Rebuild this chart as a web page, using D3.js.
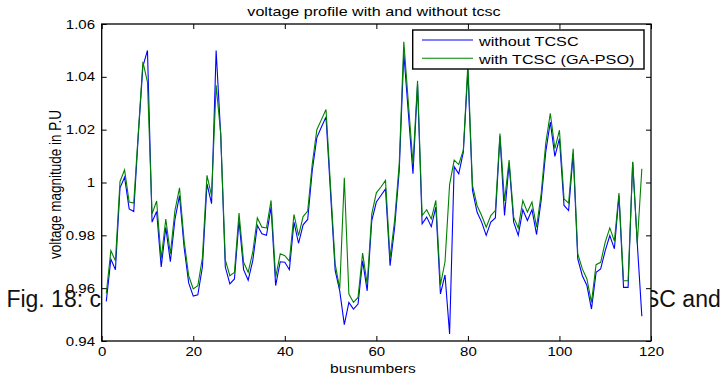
<!DOCTYPE html>
<html>
<head>
<meta charset="utf-8">
<script src="https://cdn.jsdelivr.net/npm/d3@7"></script>
<style>
  html, body { margin: 0; padding: 0; background: #ffffff; }
  svg { display: block; font-family: "Liberation Sans", Arial, sans-serif; }
</style>
</head>
<body>
<svg id="chart" width="726" height="379"></svg>
<script>
// ---------------- data ----------------
const buses = d3.range(1, 119);

const withoutTCSC = [
  0.955, 0.971, 0.967, 0.998, 1.002, 0.990, 0.989, 1.018, 1.044, 1.050,
  0.985, 0.989, 0.968, 0.983, 0.970, 0.986, 0.995, 0.9755, 0.962, 0.957,
  0.9575, 0.968, 0.9995, 0.992, 1.050, 1.018, 0.968, 0.9616, 0.9635, 0.9856,
  0.967, 0.963, 0.9704, 0.9837, 0.9806, 0.980, 0.9907, 0.961, 0.970, 0.9698,
  0.967, 0.985, 0.977, 0.984, 0.986, 1.0046, 1.017, 1.021, 1.0248, 0.9958,
  0.9667, 0.959, 0.9462, 0.9546, 0.9521, 0.954, 0.9704, 0.959, 0.9856, 0.9926,
  0.9951, 0.9976, 0.9685, 0.9831, 1.0046, 1.0489, 1.026, 1.0033, 1.037, 0.9844,
  0.9869, 0.9833, 0.9907, 0.9578, 0.965, 0.9427, 1.006, 1.0033, 1.0115, 1.0425,
  0.997, 0.9888, 0.985, 0.980, 0.985, 0.9866, 1.0175, 0.9875, 1.0072, 0.985,
  0.980, 0.9897, 0.9856, 0.9897, 0.9803, 0.9932, 1.0115, 1.0229, 1.0099, 1.0166,
  0.9913, 0.9894, 1.0109, 0.9711, 0.9647, 0.961, 0.9521, 0.966, 0.9673, 0.9742,
  0.9799, 0.9749, 0.995, 0.9603, 0.9603, 1.0077, 0.977, 0.9494
];

const withTCSC = [
  0.958, 0.9742, 0.9704, 1.0004, 1.0048, 0.9926, 0.9922, 1.019, 1.0457, 1.038,
  0.9881, 0.993, 0.9711, 0.9862, 0.973, 0.9894, 0.998, 0.978, 0.9647, 0.9597,
  0.9609, 0.9715, 1.0027, 0.995, 1.0368, 1.0185, 0.9707, 0.9647, 0.966, 0.9884,
  0.9698, 0.966, 0.9736, 0.9866, 0.9831, 0.9828, 0.9932, 0.9641, 0.973, 0.9723,
  0.9702, 0.9879, 0.9799, 0.9871, 0.9892, 1.0071, 1.020, 1.0238, 1.0276, 0.9984,
  0.9692, 0.9597, 1.0018, 0.9578, 0.9546, 0.9565, 0.9733, 0.9615, 0.9881, 0.9961,
  0.9983, 1.0008, 0.9714, 0.9859, 1.0071, 1.0533, 1.030, 1.0071, 1.0385, 0.9875,
  0.9897, 0.9862, 0.9932, 0.9612, 0.970, 0.9992, 1.0085, 1.0068, 1.0122, 1.045,
  0.9989, 0.9913, 0.9875, 0.9831, 0.9875, 0.9894, 1.0185, 0.993, 1.0085, 0.9869,
  0.9828, 0.9932, 0.9888, 0.9926, 0.9831, 0.9957, 1.0147, 1.0262, 1.0128, 1.0198,
  0.9938, 0.9922, 1.0128, 0.973, 0.9673, 0.9635, 0.9546, 0.9689, 0.9698, 0.9774,
  0.9828, 0.9778, 0.996, 0.9628, 0.9628, 1.0078, 0.9768, 1.0052
];

const seriesNames = ["without TCSC", "with TCSC (GA-PSO)"];
const seriesColors = ["#0000ff", "#008000"];

const xTickValues = [0, 20, 40, 60, 80, 100, 120];
const xTickLabels = ["0", "20", "40", "60", "80", "100", "120"];
const yTickValues = [0.94, 0.96, 0.98, 1.00, 1.02, 1.04, 1.06];
const yTickLabels = ["0.94", "0.96", "0.98", "1", "1.02", "1.04", "1.06"];

const titleText = "voltage profile with and without tcsc";
const xLabelText = "busnumbers";
const yLabelText = "voltage magnitude in P.U";
const captionLeft = "Fig. 18: c";
const captionRight = "SC and";

// ---------------- layout ----------------
const svg = d3.select("#chart");
const W = 726, H = 379;
const plot = { left: 101.7, right: 651, top: 24, bottom: 341 };
const SX = 1.2; // horizontal stretch of the text seen in the picture

svg.append("rect").attr("width", W).attr("height", H).attr("fill", "#ffffff");

// caption text of the page, partly hidden behind the figure
svg.append("text")
  .attr("x", 101).attr("y", 307)
  .attr("text-anchor", "end")
  .attr("font-size", 23)
  .attr("fill", "#111")
  .text(captionLeft);
svg.append("text")
  .attr("x", 644).attr("y", 307)
  .attr("text-anchor", "start")
  .attr("font-size", 23)
  .attr("fill", "#111")
  .text(captionRight);

const x = d3.scaleLinear().domain([0, 120]).range([plot.left, plot.right]);
const y = d3.scaleLinear().domain([0.94, 1.06]).range([plot.bottom, plot.top]);

// axes background
svg.append("rect")
  .attr("x", plot.left).attr("y", plot.top)
  .attr("width", plot.right - plot.left).attr("height", plot.bottom - plot.top)
  .attr("fill", "#ffffff");

// lines
const line = d3.line().x((d, i) => x(buses[i])).y(d => y(d));
[withoutTCSC, withTCSC].forEach((s, k) => {
  svg.append("path")
    .datum(s)
    .attr("d", line)
    .attr("fill", "none")
    .attr("stroke", seriesColors[k])
    .attr("stroke-width", 1.1)
    .attr("stroke-linejoin", "miter");
});

// axes
const fontTick = 12.5;
const xAxis = d3.axisBottom(x).tickValues(xTickValues)
  .tickFormat((d, i) => xTickLabels[i]).tickSize(-5).tickPadding(6.5);
const gx = svg.append("g").attr("transform", `translate(0,${plot.bottom})`).call(xAxis);
gx.select(".domain").remove();
gx.selectAll("text").attr("font-size", fontTick).attr("font-family", "Liberation Sans, Arial, sans-serif")
  .attr("fill", "#000").attr("transform", `scale(${SX},1)`);
gx.selectAll("line").attr("stroke", "#000");

const xAxisTop = d3.axisTop(x).tickValues(xTickValues).tickFormat("").tickSize(-5);
const gxt = svg.append("g").attr("transform", `translate(0,${plot.top})`).call(xAxisTop);
gxt.select(".domain").remove();
gxt.selectAll("line").attr("stroke", "#000");

const yAxis = d3.axisLeft(y).tickValues(yTickValues)
  .tickFormat((d, i) => yTickLabels[i]).tickSize(-5).tickPadding(5.6);
const gy = svg.append("g").attr("transform", `translate(${plot.left},0)`).call(yAxis);
gy.select(".domain").remove();
gy.selectAll("text").attr("font-size", fontTick).attr("font-family", "Liberation Sans, Arial, sans-serif")
  .attr("fill", "#000").attr("transform", `scale(${SX},1)`);
gy.selectAll("line").attr("stroke", "#000");

const yAxisRight = d3.axisRight(y).tickValues(yTickValues).tickFormat("").tickSize(-5);
const gyr = svg.append("g").attr("transform", `translate(${plot.right},0)`).call(yAxisRight);
gyr.select(".domain").remove();
gyr.selectAll("line").attr("stroke", "#000");

// box
svg.append("rect")
  .attr("x", plot.left).attr("y", plot.top)
  .attr("width", plot.right - plot.left).attr("height", plot.bottom - plot.top)
  .attr("fill", "none").attr("stroke", "#000").attr("stroke-width", 1.3);

// title
svg.append("text")
  .attr("transform", `translate(374,15.5) scale(1.24,1)`)
  .attr("text-anchor", "middle")
  .attr("font-size", 13)
  .attr("fill", "#000")
  .text(titleText);

// x label
svg.append("text")
  .attr("transform", `translate(373,372.5) scale(${SX},1)`)
  .attr("text-anchor", "middle")
  .attr("font-size", 13)
  .attr("fill", "#000")
  .text(xLabelText);

// y label
svg.append("text")
  .attr("transform", `translate(61,${(plot.top + plot.bottom) / 2 + 2}) rotate(-90) scale(1,${SX})`)
  .attr("text-anchor", "middle")
  .attr("font-size", 13.5)
  .attr("fill", "#000")
  .text(yLabelText);

// legend
const lg = svg.append("g");
lg.append("rect")
  .attr("x", 412.7).attr("y", 30).attr("width", 231.3).attr("height", 39)
  .attr("fill", "#ffffff").attr("stroke", "#000").attr("stroke-width", 1.4);
const legendRowsY = [40, 58.3];
seriesNames.forEach((name, k) => {
  lg.append("line")
    .attr("x1", 422).attr("x2", 473)
    .attr("y1", legendRowsY[k]).attr("y2", legendRowsY[k])
    .attr("stroke", seriesColors[k]).attr("stroke-width", 1.1);
  lg.append("text")
    .attr("transform", `translate(479,${legendRowsY[k] + 5.5}) scale(${SX},1)`)
    .attr("font-size", 13.5)
    .attr("fill", "#000")
    .text(name);
});
</script>
</body>
</html>
